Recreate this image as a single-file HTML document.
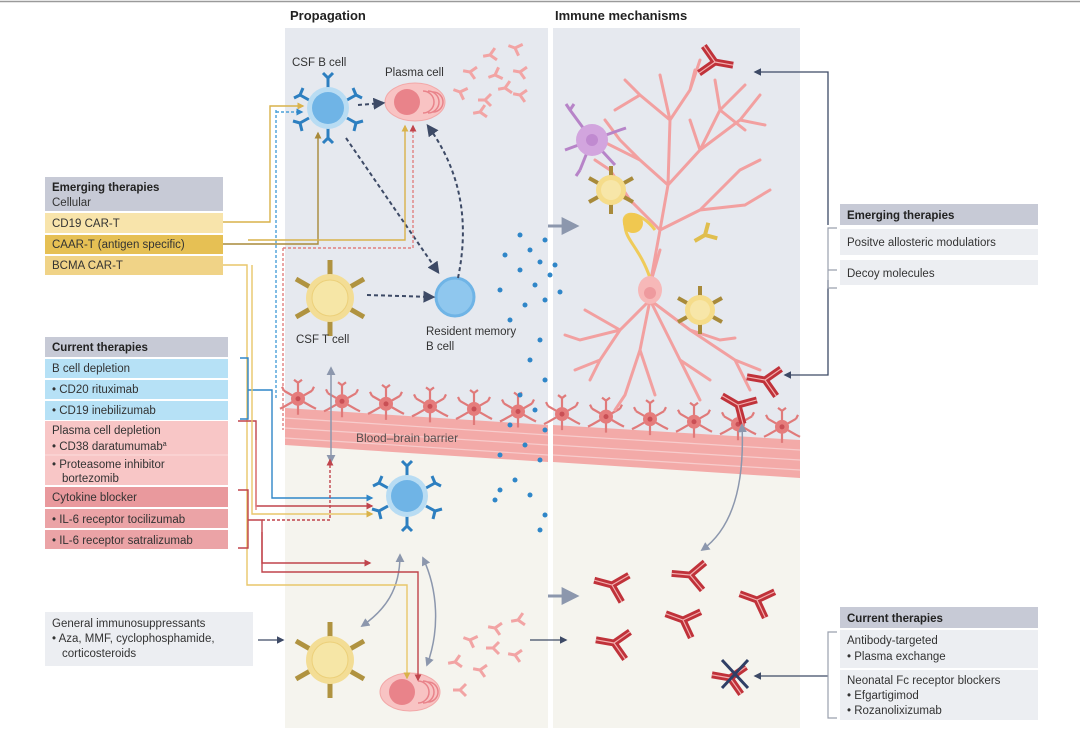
<!DOCTYPE html>
<html><head><meta charset="utf-8"><style>
body{margin:0;background:#fff}
svg{display:block;font-family:"Liberation Sans",sans-serif}
</style></head><body>
<svg id="s" width="1080" height="740" viewBox="0 0 1080 740" xmlns="http://www.w3.org/2000/svg">
<defs>
<marker id="ag" viewBox="0 0 10 10" refX="8" refY="5" markerWidth="6" markerHeight="6" orient="auto-start-reverse"><path d="M0,0L10,5L0,10z" fill="#8c97ad"/></marker>
<marker id="an" viewBox="0 0 10 10" refX="8" refY="5" markerWidth="6" markerHeight="6" orient="auto"><path d="M0,0L10,5L0,10z" fill="#3d4a66"/></marker>
<marker id="ay" viewBox="0 0 10 10" refX="8" refY="5" markerWidth="5" markerHeight="5" orient="auto"><path d="M0,0L10,5L0,10z" fill="#d9b24a"/></marker>
<marker id="ab" viewBox="0 0 10 10" refX="8" refY="5" markerWidth="5" markerHeight="5" orient="auto"><path d="M0,0L10,5L0,10z" fill="#2f86c8"/></marker>
<marker id="ar" viewBox="0 0 10 10" refX="8" refY="5" markerWidth="5" markerHeight="5" orient="auto"><path d="M0,0L10,5L0,10z" fill="#c0444c"/></marker>
<marker id="abr" viewBox="0 0 10 10" refX="8" refY="5" markerWidth="5" markerHeight="5" orient="auto"><path d="M0,0L10,5L0,10z" fill="#a88a3a"/></marker>
<g id="ab1"><path d="M0,0V16M0,0L-12,-12M0,0L12,-12" stroke="#c0323a" stroke-width="6" fill="none"/><path d="M0,0V16M0,0L-12,-12M0,0L12,-12" stroke="#f3b0b0" stroke-width="1" fill="none"/></g>
<g id="abs"><path d="M0,0V7M0,0L-6,-6M0,0L6,-6" stroke="#f2a4a4" stroke-width="3" fill="none"/></g>
<g id="aby"><path d="M0,0V12M0,0L-9,-9M0,0L9,-9" stroke="#e0be4e" stroke-width="4" fill="none"/></g>
<g id="astro"><g stroke="#e07a7a" stroke-width="2.2" fill="none"><path d="M0,0L0,-16M0,0L14,-8M0,0L14,8M0,0L0,16M0,0L-14,8M0,0L-14,-8M0,-16l-4,-3M0,-16l4,-3M14,-8l2,-4M-14,-8l-2,-4M14,8l4,2M-14,8l-4,2"/></g><circle r="7" fill="#e57c7c"/><circle r="2.5" fill="#c94f55"/></g>
<g id="bcell"><g stroke="#2d7fc0" stroke-width="3" fill="none"><path d="M0,-20V-30M-5,-35L0,-30L5,-35M19,-8L28,-13M25,-20L28,-13L34,-10M19,10L28,15M26,23L28,15L35,13M0,20V30M-5,35L0,30L5,35M-19,10L-28,15M-26,23L-28,15L-35,13M-19,-8L-28,-13M-25,-20L-28,-13L-34,-10"/></g><circle r="21" fill="#b8dcf3"/><circle r="16" fill="#6fb4e6"/></g>
<g id="tcell"><g stroke="#b09340" stroke-width="5"><path d="M0,-22V-38M0,22V38M20,-11L34,-19M20,11L34,19M-20,-11L-34,-19M-20,11L-34,19"/></g><circle r="24" fill="#f3dd95"/><circle r="18" fill="#f6e6a6" stroke="#ecd07a"/></g>
<g id="tsmall"><g stroke="#a88a3a" stroke-width="4"><path d="M0,-14V-24M0,14V24M13,-7L22,-12M13,7L22,12M-13,-7L-22,-12M-13,7L-22,12"/></g><circle r="15" fill="#f5dc8a"/><circle r="10" fill="#f7e6a8"/></g>
<g id="pcell"><ellipse rx="30" ry="19" fill="#f8c3c3" stroke="#f2a8a8"/><circle cx="-8" r="13" fill="#e9838a"/><path d="M8,-11a11,11 0 0 1 0,22M13,-11a11,11 0 0 1 0,22M18,-10a10,10 0 0 1 0,20" stroke="#e9838a" stroke-width="1.5" fill="none"/></g>
</defs>
<line x1="0" y1="1.5" x2="1080" y2="1.5" stroke="#9a9a9a" stroke-width="1.5"/>
<text x="290" y="20" font-size="13" font-weight="bold" fill="#222">Propagation</text>
<text x="555" y="20" font-size="13" font-weight="bold" fill="#222">Immune mechanisms</text>
<rect x="285" y="28" width="263" height="700" fill="#f5f4ee"/>
<rect x="553" y="28" width="247" height="700" fill="#f5f4ee"/>
<polygon points="285,28 548,28 548,440 285,425" fill="#e6e9ef"/>
<polygon points="553,28 800,28 800,455 553,440" fill="#e6e9ef"/>
<polygon points="285,408 548,425 548,462 285,445" fill="#f3aaa8"/>
<polygon points="553,425 800,440 800,478 553,462" fill="#f3aaa8"/>
<g stroke="#f7cccc" stroke-width="1.2" fill="none">
<path d="M285,418L548,435M285,428L548,445M285,438L548,455M553,435L800,450M553,445L800,460M553,455L800,470"/>
</g>
<text x="356" y="442" font-size="12" fill="#444" opacity=".9">Blood–brain barrier</text>
<g id="astros"></g>
<g id="dots" fill="#2f86c8"></g>
<g stroke="#f2a0a0" stroke-width="3" fill="none" stroke-linecap="round">
<path d="M650,285L660,230L668,185L670,120L660,75M668,185L700,150L720,110L715,80M700,150L740,120L760,95M720,110L745,85M670,120L640,95L625,80M640,95L615,110M660,230L630,200L610,170M630,200L600,190M660,230L700,210L745,205M700,210L740,170L760,160M668,185L640,160L620,140M640,160L600,140M670,120L690,90L695,70M720,110L745,130M650,285L660,250M690,90L700,60M740,120L765,125M745,205L770,190M610,170L595,160M620,140L605,120M700,150L690,120"/>
<path d="M650,300L620,330L580,340L565,335M620,330L600,360L590,380M650,300L640,350L625,395M640,350L655,395M650,300L690,330L735,360L750,390M690,330L720,340L735,338M650,300L680,360L700,400M620,330L585,310M600,360L575,370M680,360L710,380M625,395L615,410M735,360L760,370"/>
</g>
<path d="M655,230C640,210 620,210 625,225C625,240 640,248 650,278" stroke="#efcb5a" stroke-width="3" fill="none"/>
<circle cx="633" cy="223" r="10" fill="#f0c850"/>
<ellipse cx="650" cy="290" rx="12" ry="14" fill="#f7b8b8"/><circle cx="650" cy="293" r="6" fill="#ee9a9e"/>
<g stroke="#b784c8" stroke-width="3" fill="none"><path d="M592,140L570,110M592,140L620,130M592,140L615,165M592,140L580,170M592,140L565,150M570,110l-4,-6M570,110l4,-6M580,170l-4,6M620,130l6,-2"/></g>
<circle cx="592" cy="140" r="16" fill="#d2a5de"/><circle cx="592" cy="140" r="6" fill="#c08ad0"/>
<use href="#tsmall" x="611" y="190"/>
<use href="#tsmall" x="700" y="310"/>
<use href="#aby" x="705" y="235" transform="rotate(60 705 235)"/>
<use href="#bcell" x="328" y="108"/>
<use href="#pcell" x="415" y="102"/>
<use href="#tcell" x="330" y="298"/>
<circle cx="455" cy="297" r="19" fill="#8fc7ee" stroke="#6fb4e6" stroke-width="3"/>
<use href="#bcell" x="407" y="496"/>
<use href="#tcell" x="330" y="660"/>
<use href="#pcell" x="410" y="692"/>
<text x="292" y="66" font-size="11.5" fill="#333">CSF B cell</text>
<text x="385" y="76" font-size="11.5" fill="#333">Plasma cell</text>
<text x="296" y="343" font-size="11.5" fill="#333">CSF T cell</text>
<text x="426" y="335" font-size="11.5" fill="#333">Resident memory</text>
<text x="426" y="350" font-size="11.5" fill="#333">B cell</text>
<g id="smallab"></g>
<g id="bigab"></g>
<g stroke="#3d4a66" stroke-width="2" stroke-dasharray="4,3" fill="none">
<path d="M358,105L383,103" marker-end="url(#an)"/>
<path d="M346,138L438,272" marker-end="url(#an)"/>
<path d="M458,278C470,220 460,170 428,126" marker-end="url(#an)"/>
<path d="M367,295L433,297" marker-end="url(#an)"/>
</g>
<g stroke="#8c97ad" stroke-width="3" fill="none">
<path d="M548,226L576,226" marker-end="url(#ag)"/>
<path d="M548,596L576,596" marker-end="url(#ag)"/>
</g>
<g stroke="#8c97ad" stroke-width="1.5" fill="none">
<path d="M331,368L331,462" marker-start="url(#ag)" marker-end="url(#ag)"/>
<path d="M742,425C745,490 730,530 702,550" marker-start="url(#ag)" marker-end="url(#ag)"/>
<path d="M400,555C400,590 385,610 362,626" marker-start="url(#ag)" marker-end="url(#ag)"/>
<path d="M423,558C438,590 440,630 427,665" marker-start="url(#ag)" marker-end="url(#ag)"/>
</g>
<g stroke="#3d4a66" stroke-width="1.3" fill="none">
<path d="M530,640L566,640" marker-end="url(#an)"/>
<path d="M258,640L283,640" marker-end="url(#an)"/>
<path d="M828,225V72H755" marker-end="url(#an)"/>
<path d="M828,280V375H785" marker-end="url(#an)"/>
<path d="M828,676H755" marker-end="url(#an)"/>
</g>
<g fill="none" stroke-width="1.4">
<path d="M223,222H270V106H303" stroke="#d9b24a" marker-end="url(#ay)"/>
<path d="M276,110V400" stroke="#4aa0d8" stroke-dasharray="3,2"/>
<path d="M276,112H302" stroke="#4aa0d8" stroke-dasharray="3,2" marker-end="url(#ab)"/>
<path d="M223,244H318V133" stroke="#a88a3a" marker-end="url(#abr)"/>
<path d="M248,240H405V126" stroke="#d9b24a" marker-end="url(#ay)"/>
<path d="M283,248H413V126" stroke="#e08080" stroke-dasharray="3,2" marker-end="url(#ar)"/>
<path d="M283,248V430" stroke="#e08080" stroke-dasharray="3,2"/>
<path d="M223,265H247V585H407V678" stroke="#e8c66a" marker-end="url(#ay)"/>
<path d="M240,358H248V419H240M248,390H272V498H372" stroke="#2f86c8" marker-end="url(#ab)"/>
<path d="M238,421H256V506H372" stroke="#c0444c" marker-end="url(#ar)"/>
<path d="M256,440V510" stroke="#e08080"/>
<path d="M238,490H248V548H238M248,520H262V572H418V680" stroke="#c0444c" marker-end="url(#ar)"/>
<path d="M262,520H330V460" stroke="#c0444c" stroke-dasharray="3,2" marker-end="url(#ar)"/>
<path d="M262,532V563H370" stroke="#c0444c" marker-end="url(#ar)"/>
<path d="M252,265V514H372" stroke="#e8c66a" marker-end="url(#ay)"/>
</g>
<rect x="45" y="177" width="178" height="34" fill="#c7cad6"/>
<text x="52" y="191" font-size="11.5" font-weight="bold" fill="#222">Emerging therapies</text>
<text x="52" y="206" font-size="11.5" fill="#333">Cellular</text>
<rect x="45" y="213" width="178" height="20" fill="#f8e4ab"/><text x="52" y="227" font-size="11.5" fill="#333">CD19 CAR-T</text>
<rect x="45" y="235" width="178" height="19" fill="#e6c054"/><text x="52" y="248" font-size="11.5" fill="#333">CAAR-T (antigen specific)</text>
<rect x="45" y="256" width="178" height="19" fill="#f0d387"/><text x="52" y="269" font-size="11.5" fill="#333">BCMA CAR-T</text>
<rect x="45" y="337" width="183" height="20" fill="#c7cad6"/><text x="52" y="351" font-size="11.5" font-weight="bold" fill="#222">Current therapies</text>
<rect x="45" y="359" width="183" height="19" fill="#b6e1f6"/><text x="52" y="372" font-size="11.5" fill="#333">B cell depletion</text>
<rect x="45" y="380" width="183" height="19" fill="#b6e1f6"/><text x="52" y="393" font-size="11.5" fill="#333">• CD20 rituximab</text>
<rect x="45" y="401" width="183" height="19" fill="#b6e1f6"/><text x="52" y="414" font-size="11.5" fill="#333">• CD19 inebilizumab</text>
<rect x="45" y="421" width="183" height="64" fill="#f8c6c6"/>
<line x1="45" y1="455" x2="228" y2="455" stroke="#fbdcdc"/>
<text x="52" y="434" font-size="11.5" fill="#333">Plasma cell depletion</text>
<text x="52" y="450" font-size="11.5" fill="#333">• CD38 daratumumab<tspan font-size="7" dy="-4">a</tspan></text>
<text x="52" y="468" font-size="11.5" fill="#333">• Proteasome inhibitor</text>
<text x="62" y="482" font-size="11.5" fill="#333">bortezomib</text>
<rect x="45" y="487" width="183" height="20" fill="#e9999d"/><text x="52" y="501" font-size="11.5" fill="#333">Cytokine blocker</text>
<rect x="45" y="509" width="183" height="19" fill="#eba3a6"/><text x="52" y="523" font-size="11.5" fill="#333">• IL-6 receptor tocilizumab</text>
<rect x="45" y="530" width="183" height="19" fill="#eba3a6"/><text x="52" y="544" font-size="11.5" fill="#333">• IL-6 receptor satralizumab</text>
<rect x="45" y="612" width="208" height="54" fill="#eceef2"/>
<text x="52" y="627" font-size="11.5" fill="#333">General immunosuppressants</text>
<text x="52" y="642" font-size="11.5" fill="#333">• Aza, MMF, cyclophosphamide,</text>
<text x="62" y="657" font-size="11.5" fill="#333">corticosteroids</text>
<rect x="840" y="204" width="198" height="21" fill="#c7cad6"/><text x="847" y="219" font-size="11.5" font-weight="bold" fill="#222">Emerging therapies</text>
<rect x="840" y="229" width="198" height="26" fill="#eceef2"/><text x="847" y="246" font-size="11.5" fill="#333">Positve allosteric modulatiors</text>
<rect x="840" y="260" width="198" height="25" fill="#eceef2"/><text x="847" y="277" font-size="11.5" fill="#333">Decoy molecules</text>
<path d="M837,228H828V270H837M828,268V288H837" stroke="#9aa0ae" stroke-width="1.2" fill="none"/>
<rect x="840" y="607" width="198" height="21" fill="#c7cad6"/><text x="847" y="622" font-size="11.5" font-weight="bold" fill="#222">Current therapies</text>
<rect x="840" y="630" width="198" height="38" fill="#eceef2"/>
<text x="847" y="644" font-size="11.5" fill="#333">Antibody-targeted</text>
<text x="847" y="660" font-size="11.5" fill="#333">• Plasma exchange</text>
<rect x="840" y="670" width="198" height="50" fill="#eceef2"/>
<text x="847" y="684" font-size="11.5" fill="#333">Neonatal Fc receptor blockers</text>
<text x="847" y="699" font-size="11.5" fill="#333">• Efgartigimod</text>
<text x="847" y="714" font-size="11.5" fill="#333">• Rozanolixizumab</text>
<path d="M837,632H828V718H837" stroke="#9aa0ae" stroke-width="1.2" fill="none"/>
<g id="xmark"></g>
<script>
var N="http://www.w3.org/2000/svg";
function u(id,x,y,r,p,s){var e=document.createElementNS(N,"use");e.setAttribute("href","#"+id);e.setAttribute("transform","translate("+x+","+y+") rotate("+(r||0)+") scale("+(s||1)+")");document.getElementById(p).appendChild(e);}
for(var i=0;i<12;i++){var x=298+i*44;var y=398+(x-285)*0.058;if(x>538&&x<562)continue;u("astro",x,y,0,"astros");}
var d=[[520,235],[545,240],[530,250],[505,255],[540,262],[555,265],[520,270],[550,275],[535,285],[500,290],[560,292],[545,300],[525,305],[510,320],[540,340],[530,360],[545,380],[520,395],[535,410],[510,425],[545,430],[525,445],[500,455],[540,460],[515,480],[500,490],[530,495],[545,515],[540,530],[495,500]];
d.forEach(function(p){var c=document.createElementNS(N,"circle");c.setAttribute("cx",p[0]);c.setAttribute("cy",p[1]);c.setAttribute("r",2.5);document.getElementById("dots").appendChild(c);});
[[470,72,100],[490,55,80],[515,48,110],[495,75,70],[520,72,100],[505,88,80],[460,92,110],[485,100,90],[520,95,100],[480,112,80],[495,628,100],[518,620,80],[470,640,110],[493,648,90],[515,655,100],[455,662,80],[480,670,100],[460,690,90]].forEach(function(p){u("abs",p[0],p[1],p[2],"smallab");});
[[715,62,-80],[612,585,105],[690,575,95],[757,600,110],[683,620,110],[614,643,100],[765,380,100],[738,405,120],[730,678,100]].forEach(function(p){u("ab1",p[0],p[1],p[2],"bigab",1.15);});
</script>
<path d="M722,660L748,688M748,660L722,688" stroke="#2f3f66" stroke-width="3"/>
</svg>
</body></html>
